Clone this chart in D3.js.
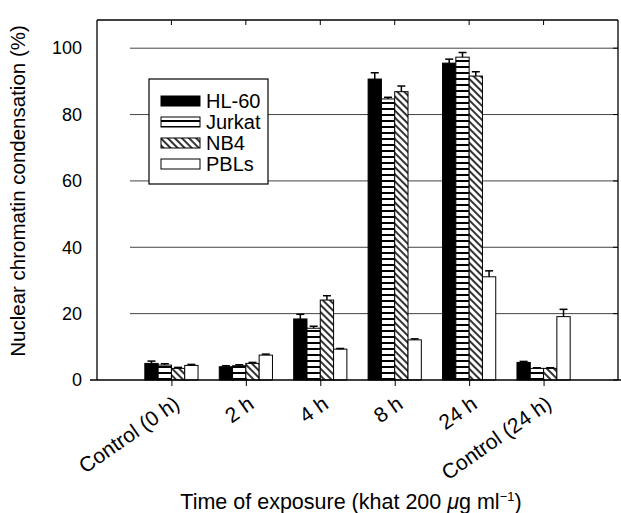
<!DOCTYPE html>
<html>
<head>
<meta charset="utf-8">
<script src="https://cdn.jsdelivr.net/npm/d3@7"></script>
<style>
  body { margin: 0; background: #fff; }
  text { font-family: "Liberation Sans", Arial, sans-serif; fill: #000; }
</style>
</head>
<body>
<div id="chart"></div>
<script>
  var WIDTH = 621;
  var HEIGHT = 513;

  // categories and series
  var categories = ["Control (0 h)", "2 h", "4 h", "8 h", "24 h", "Control (24 h)"];
  var seriesNames = ["HL-60", "Jurkat", "NB4", "PBLs"];
  var hl60   = [5.0, 4.0, 18.4, 90.7, 95.5, 5.3];
  var jurkat = [4.5, 4.3, 15.6, 84.7, 97.3, 3.5];
  var nb4    = [3.5, 5.0, 24.1, 86.9, 91.6, 3.5];
  var pbls   = [4.4, 7.5, 9.3, 12.1, 31.1, 19.1];
  var hl60Err   = [0.7, 0.3, 1.4, 1.9, 1.2, 0.3];
  var jurkatErr = [0.4, 0.3, 0.6, 0.5, 1.4, 0.2];
  var nb4Err    = [0.3, 0.3, 1.3, 1.7, 1.3, 0.2];
  var pblsErr   = [0.3, 0.3, 0.2, 0.3, 1.8, 2.2];
  var yTicks = [0, 20, 40, 60, 80, 100];

  var values = [hl60, jurkat, nb4, pbls];
  var errors = [hl60Err, jurkatErr, nb4Err, pblsErr];

  var svg = d3.select("#chart").append("svg")
      .attr("width", WIDTH)
      .attr("height", HEIGHT);

  svg.append("rect").attr("width", WIDTH).attr("height", HEIGHT).attr("fill", "#fff");

  // fill patterns
  var defs = svg.append("defs");
  var ph = defs.append("pattern").attr("id", "hstripe")
      .attr("patternUnits", "userSpaceOnUse").attr("width", 6).attr("height", 6);
  ph.append("rect").attr("width", 6).attr("height", 6).attr("fill", "#fff");
  ph.append("line").attr("x1", 0).attr("x2", 6).attr("y1", 1).attr("y2", 1)
      .attr("stroke", "#000").attr("stroke-width", 2);

  var pd = defs.append("pattern").attr("id", "dstripe")
      .attr("patternUnits", "userSpaceOnUse").attr("width", 5).attr("height", 5)
      .attr("patternTransform", "rotate(-45)");
  pd.append("rect").attr("width", 5).attr("height", 5).attr("fill", "#fff");
  pd.append("line").attr("x1", 1).attr("x2", 1).attr("y1", 0).attr("y2", 5)
      .attr("stroke", "#000").attr("stroke-width", 1.6);

  var fills = ["#000", "url(#hstripe)", "url(#dstripe)", "#fff"];

  var x = d3.scaleLinear().domain([0, categories.length + 1]).range([97, 618]);
  var y = d3.scaleLinear().domain([0, 108.5]).range([380, 20]);
  var BAR = 13.3;

  // gridlines
  svg.append("g").selectAll("line")
      .data(yTicks.filter(function (d) { return d > 0; }))
      .enter().append("line")
      .attr("x1", 130).attr("x2", 618)
      .attr("y1", function (d) { return y(d); })
      .attr("y2", function (d) { return y(d); })
      .attr("stroke", "#444").attr("stroke-width", 1);

  // frame: top and right
  svg.append("line").attr("x1", 97).attr("x2", 618).attr("y1", 20).attr("y2", 20)
      .attr("stroke", "#000").attr("stroke-width", 1.3);
  svg.append("line").attr("x1", 618).attr("x2", 618).attr("y1", 20).attr("y2", 380)
      .attr("stroke", "#000").attr("stroke-width", 1.3);

  // top ticks and right ticks
  svg.append("g").selectAll("line").data(categories).enter().append("line")
      .attr("x1", function (d, i) { return x(i + 1); })
      .attr("x2", function (d, i) { return x(i + 1); })
      .attr("y1", 20).attr("y2", 25).attr("stroke", "#000");
  svg.append("g").selectAll("line").data(yTicks).enter().append("line")
      .attr("x1", 613).attr("x2", 618)
      .attr("y1", function (d) { return y(d); })
      .attr("y2", function (d) { return y(d); })
      .attr("stroke", "#000");

  // bars
  categories.forEach(function (c, i) {
    values.forEach(function (vals, j) {
      var bx = x(i + 1) + (j - 2) * BAR;
      svg.append("rect")
          .attr("x", bx).attr("width", BAR)
          .attr("y", y(vals[i])).attr("height", y(0) - y(vals[i]))
          .attr("fill", fills[j]).attr("stroke", "#000").attr("stroke-width", 1);
      // error bar (upper only)
      var cx = bx + BAR / 2;
      var top = y(vals[i] + errors[j][i]);
      svg.append("line").attr("x1", cx).attr("x2", cx)
          .attr("y1", y(vals[i])).attr("y2", top)
          .attr("stroke", "#000").attr("stroke-width", 1.5);
      svg.append("line").attr("x1", cx - 4).attr("x2", cx + 4)
          .attr("y1", top).attr("y2", top)
          .attr("stroke", "#000").attr("stroke-width", 1.5);
    });
  });

  // left axis
  var yAxis = svg.append("g").attr("transform", "translate(97,0)")
      .call(d3.axisLeft(y).tickValues(yTicks).tickSize(0).tickPadding(15));
  yAxis.select(".domain").attr("d", "M0,20V380").attr("stroke-width", 1.3);
  yAxis.selectAll("text").style("font-size", "18px")
      .style("font-family", "'Liberation Sans', Arial, sans-serif");

  // bottom axis
  var xAxis = svg.append("g").attr("transform", "translate(0,380)")
      .call(d3.axisBottom(x).tickValues(d3.range(1, categories.length + 1))
        .tickSize(6).tickFormat(function (d) { return categories[d - 1]; }));
  xAxis.select(".domain").attr("d", "M90,0H621").attr("stroke-width", 1.3);
  xAxis.selectAll("text")
      .style("font-size", "21px")
      .style("font-family", "'Liberation Sans', Arial, sans-serif")
      .attr("text-anchor", "end")
      .attr("y", 0)
      .attr("dy", "0")
      .attr("transform", "translate(9,27) rotate(-35)");

  // axis titles
  svg.append("text")
      .attr("transform", "translate(25,191) rotate(-90)")
      .attr("text-anchor", "middle")
      .style("font-size", "20.5px")
      .text("Nuclear chromatin condensation (%)");

  var xt = svg.append("text")
      .attr("x", 351).attr("y", 509)
      .attr("text-anchor", "middle")
      .style("font-size", "21.5px");
  xt.append("tspan").text("Time of exposure (khat 200 ");
  xt.append("tspan").style("font-style", "italic").text("μ");
  xt.append("tspan").text("g ml");
  xt.append("tspan").attr("dy", -8).style("font-size", "13px").text("−1");
  xt.append("tspan").attr("dy", 8).text(")");

  // legend
  var legend = svg.append("g");
  legend.append("rect").attr("x", 149).attr("y", 79).attr("width", 119).attr("height", 105)
      .attr("fill", "#fff").attr("stroke", "#000").attr("stroke-width", 1.2);
  seriesNames.forEach(function (name, j) {
    var cy = 101 + j * 21;
    legend.append("rect").attr("x", 161).attr("y", cy - 5).attr("width", 39).attr("height", 10)
        .attr("fill", fills[j]).attr("stroke", "#000").attr("stroke-width", 1);
    legend.append("text").attr("x", 206).attr("y", cy + 7)
        .style("font-size", "20px").text(name);
  });
</script>
</body>
</html>
